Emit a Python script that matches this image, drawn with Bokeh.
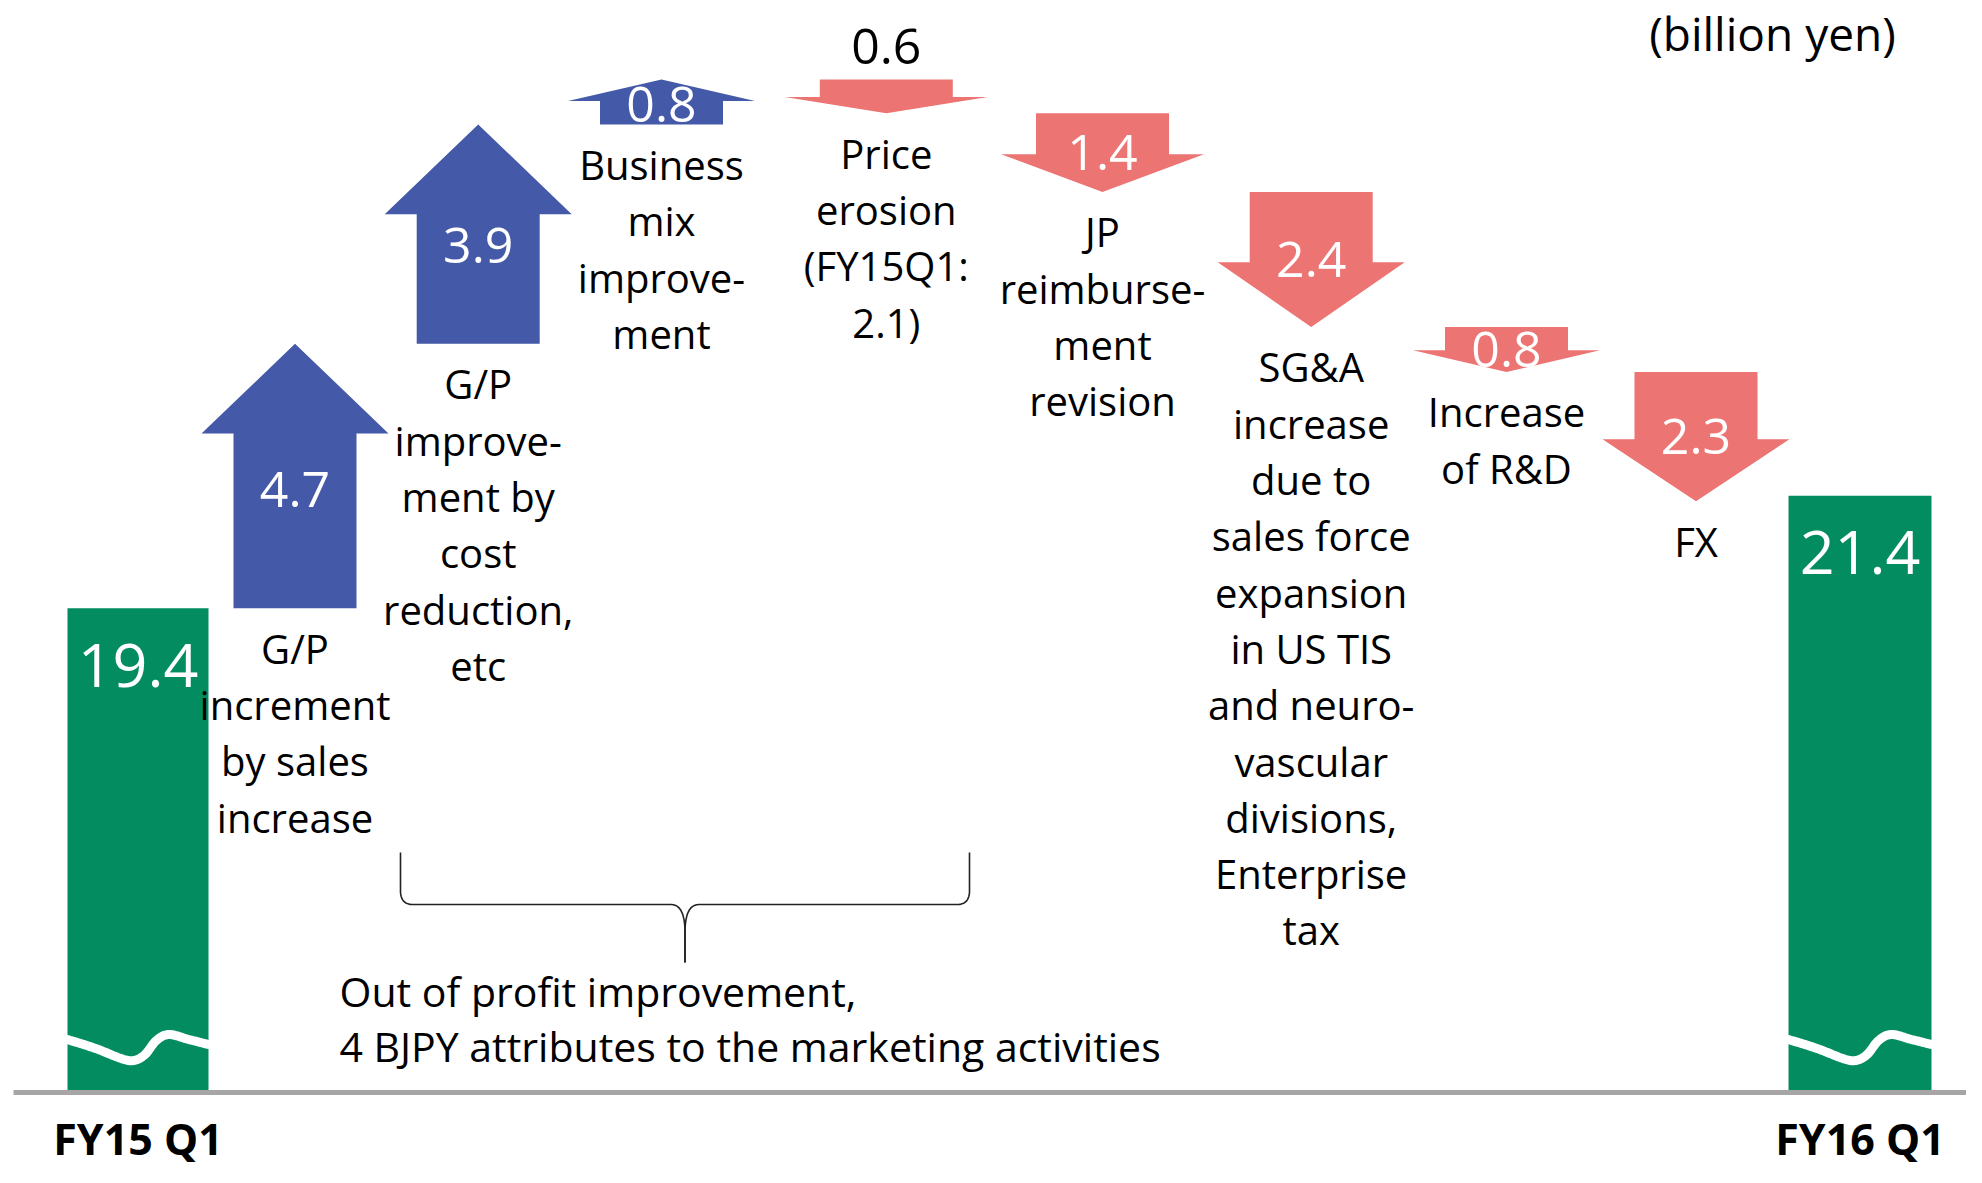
import numpy as np
from bokeh.plotting import figure
from bokeh.models import Range1d, ColumnDataSource
from bokeh.embed import file_html
from bokeh.resources import INLINE
from bokeh.core.properties import value

# ------------------------------------------------------------------ data
start_label = "FY15 Q1"
end_label = "FY16 Q1"
start_value = 19.4
end_value = 21.4
step_values = [4.7, 3.9, 0.8, -0.6, -1.4, -2.4, -0.8, -2.3]
step_value_labels = ["4.7", "3.9", "0.8", "0.6", "1.4", "2.4", "0.8", "2.3"]
step_descriptions = [
    ["G/P", "increment", "by sales", "increase"],
    ["G/P", "improve-", "ment by", "cost", "reduction,", "etc"],
    ["Business", "mix", "improve-", "ment"],
    ["Price", "erosion", "(FY15Q1:", "2.1)"],
    ["JP", "reimburse-", "ment", "revision"],
    ["SG&A", "increase", "due to", "sales force", "expansion", "in US TIS",
     "and neuro-", "vascular", "divisions,", "Enterprise", "tax"],
    ["Increase", "of R&D"],
    ["FX"],
]
unit_label = "(billion yen)"
note_lines = ["Out of profit improvement,",
              "4 BJPY attributes to the marketing activities"]

# ------------------------------------------------------------------ layout / style
W, H = 1966, 1167
PPU = 56.24                   # px per billion yen (broken value axis)
Y_TOP = 30.2047
Y_BOT = Y_TOP - H / PPU


def ref_y(py):
    """pixel row -> value units"""
    return Y_TOP - py / PPU


def px(n):
    """pixel distance -> value units"""
    return n / PPU


AXIS_FLOOR = ref_y(1092)
slot_x = [137.5, 294.5, 477.7, 661.0, 885.8, 1102.0, 1310.7, 1506.0, 1695.5, 1859.5]
bar_w = [141, 143]
head_w = [187, 187, 187, 203, 203, 187, 187, 187]
shaft_w = [123, 123, 123, 133, 133, 123, 123, 123]

GREEN = "#038C5F"
BLUE = "#4459A7"
RED = "#EC7473"
GRAY = "#A6A6A6"
FONT = value("Open Sans")

p = figure(width=W, height=H, x_range=Range1d(0, W),
           y_range=Range1d(Y_BOT, Y_TOP), output_backend="svg",
           toolbar_location=None, x_axis_type=None, y_axis_type=None,
           min_border=0)
p.grid.visible = False
p.outline_line_color = None
p.background_fill_color = "white"
p.border_fill_color = "white"

# ------------------------------------------------------------------ totals (bars)
totals = [start_value, end_value]
total_x = [slot_x[0], slot_x[-1]]
bars = ColumnDataSource(dict(
    left=[x - w / 2 for x, w in zip(total_x, bar_w)],
    right=[x + w / 2 for x, w in zip(total_x, bar_w)],
    top=totals,
    bottom=[AXIS_FLOOR] * 2,
))
p.quad(left="left", right="right", top="top", bottom="bottom", source=bars,
       fill_color=GREEN, line_color=None)

# axis-break wave inside each bar
wave_ctrl = [(0.0, 53), (0.2, 44), (0.38, 34), (0.47, 32), (0.55, 38),
             (0.63, 52), (0.72, 58), (0.86, 53), (1.0, 48)]


def catmull(pts, n=16):
    pts = [pts[0]] + pts + [pts[-1]]
    out = []
    for i in range(1, len(pts) - 2):
        p0, p1, p2, p3 = [np.array(q, float) for q in pts[i - 1:i + 3]]
        for t in np.linspace(0, 1, n, endpoint=False):
            out.append(0.5 * ((2 * p1) + (-p0 + p2) * t +
                              (2 * p0 - 5 * p1 + 4 * p2 - p3) * t * t +
                              (-p0 + 3 * p1 - 3 * p2 + p3) * t ** 3))
    out.append(np.array(pts[-2], float))
    return np.array(out)


wave = catmull(wave_ctrl)
for x, w in zip(total_x, bar_w):
    p.line(x - w / 2 + wave[:, 0] * w, AXIS_FLOOR + px(wave[:, 1]),
           line_color="white", line_width=9, line_cap="round")

# baseline
p.segment(x0=[13], x1=[W], y0=[AXIS_FLOOR], y1=[AXIS_FLOOR],
          line_color=GRAY, line_width=5)

# ------------------------------------------------------------------ step arrows
levels = [start_value]
for d in step_values:
    levels.append(levels[-1] + d)

xs_up, ys_up, xs_dn, ys_dn = [], [], [], []
in_lab = dict(x=[], y=[], text=[])
out_lab = dict(x=[], y=[], text=[])
desc = dict(x=[], y=[], text=[])
for i, d in enumerate(step_values):
    y0, y1 = levels[i], levels[i + 1]
    cx = slot_x[i + 1]
    hw, sw = head_w[i] / 2, shaft_w[i] / 2
    h_px = abs(d) * PPU
    head = px(0.48 * min(head_w[i], h_px))
    sgn = 1 if d > 0 else -1
    yb = y1 - sgn * head
    xs = [cx - sw, cx - sw, cx - hw, cx, cx + hw, cx + sw, cx + sw]
    ys = [y0, yb, yb, y1, yb, yb, y0]
    if d > 0:
        xs_up.append(xs); ys_up.append(ys)
    else:
        xs_dn.append(xs); ys_dn.append(ys)
    if h_px >= 40:
        in_lab["x"].append(cx)
        in_lab["y"].append((y0 + y1) / 2 - (px(0.05 * h_px) if d > 0 else 0))
        in_lab["text"].append(step_value_labels[i])
    else:
        out_lab["x"].append(cx)
        out_lab["y"].append(max(y0, y1) + px(33))
        out_lab["text"].append(step_value_labels[i])
    lower = min(y0, y1)
    for k, line in enumerate(step_descriptions[i]):
        desc["x"].append(cx)
        desc["y"].append(lower - px(40 + 56.3 * k))
        desc["text"].append(line)

p.patches(xs_up, ys_up, fill_color=BLUE, line_color=None)
p.patches(xs_dn, ys_dn, fill_color=RED, line_color=None)

p.text(x="x", y="y", text="text", source=ColumnDataSource(in_lab),
       text_font=FONT, text_font_size="50px", text_color="white",
       text_align="center", text_baseline="middle")
p.text(x="x", y="y", text="text", source=ColumnDataSource(out_lab),
       text_font=FONT, text_font_size="50px", text_color="black",
       text_align="center", text_baseline="middle")
p.text(x="x", y="y", text="text", source=ColumnDataSource(desc),
       text_font=FONT, text_font_size="40px", text_color="black",
       text_align="center", text_baseline="middle")

# totals labels
p.text(x=total_x, y=[t - px(57) for t in totals],
       text=[f"{t:.1f}" for t in totals], text_font=FONT,
       text_font_size="61px", text_color="white",
       text_align="center", text_baseline="middle")
p.text(x=total_x, y=[ref_y(1138)] * 2, text=[start_label, end_label],
       text_font=FONT, text_font_size="43px", text_font_style="bold",
       text_color="black", text_align="center", text_baseline="middle")

# unit label (top right)
p.text(x=[1772], y=[ref_y(32)], text=[unit_label], text_font=FONT,
       text_font_size="46px", text_color="black", text_align="center",
       text_baseline="middle")

# ------------------------------------------------------------------ brace + note
def qbez(a, c, b, n=12):
    t = np.linspace(0, 1, n)[:, None]
    a, c, b = np.array(a, float), np.array(c, float), np.array(b, float)
    return (1 - t) ** 2 * a + 2 * (1 - t) * t * c + t ** 2 * b


bl, br, btop, bmid, btip = 400.0, 967.0, 852.0, 904.0, 962.0
bc = (bl + br) / 2 + 1
left_half = np.vstack([
    [[bl, btop]],
    qbez((bl, 892), (bl + 1, bmid), (bl + 12, bmid)),
    qbez((bc - 14, bmid), (bc, bmid), (bc, 932)),
    [[bc, btip]],
])
right_half = left_half.copy()
right_half[:, 0] = 2 * bc - right_half[:, 0]
for half in (left_half, right_half):
    p.line(half[:, 0], [ref_y(v) for v in half[:, 1]],
           line_color="#222222", line_width=1.6)

p.text(x=[339, 339], y=[ref_y(990), ref_y(1045)], text=note_lines,
       text_font=FONT, text_font_size="41px", text_color="black",
       text_align="left", text_baseline="middle")

open("out.html", "w").write(file_html(p, INLINE))
